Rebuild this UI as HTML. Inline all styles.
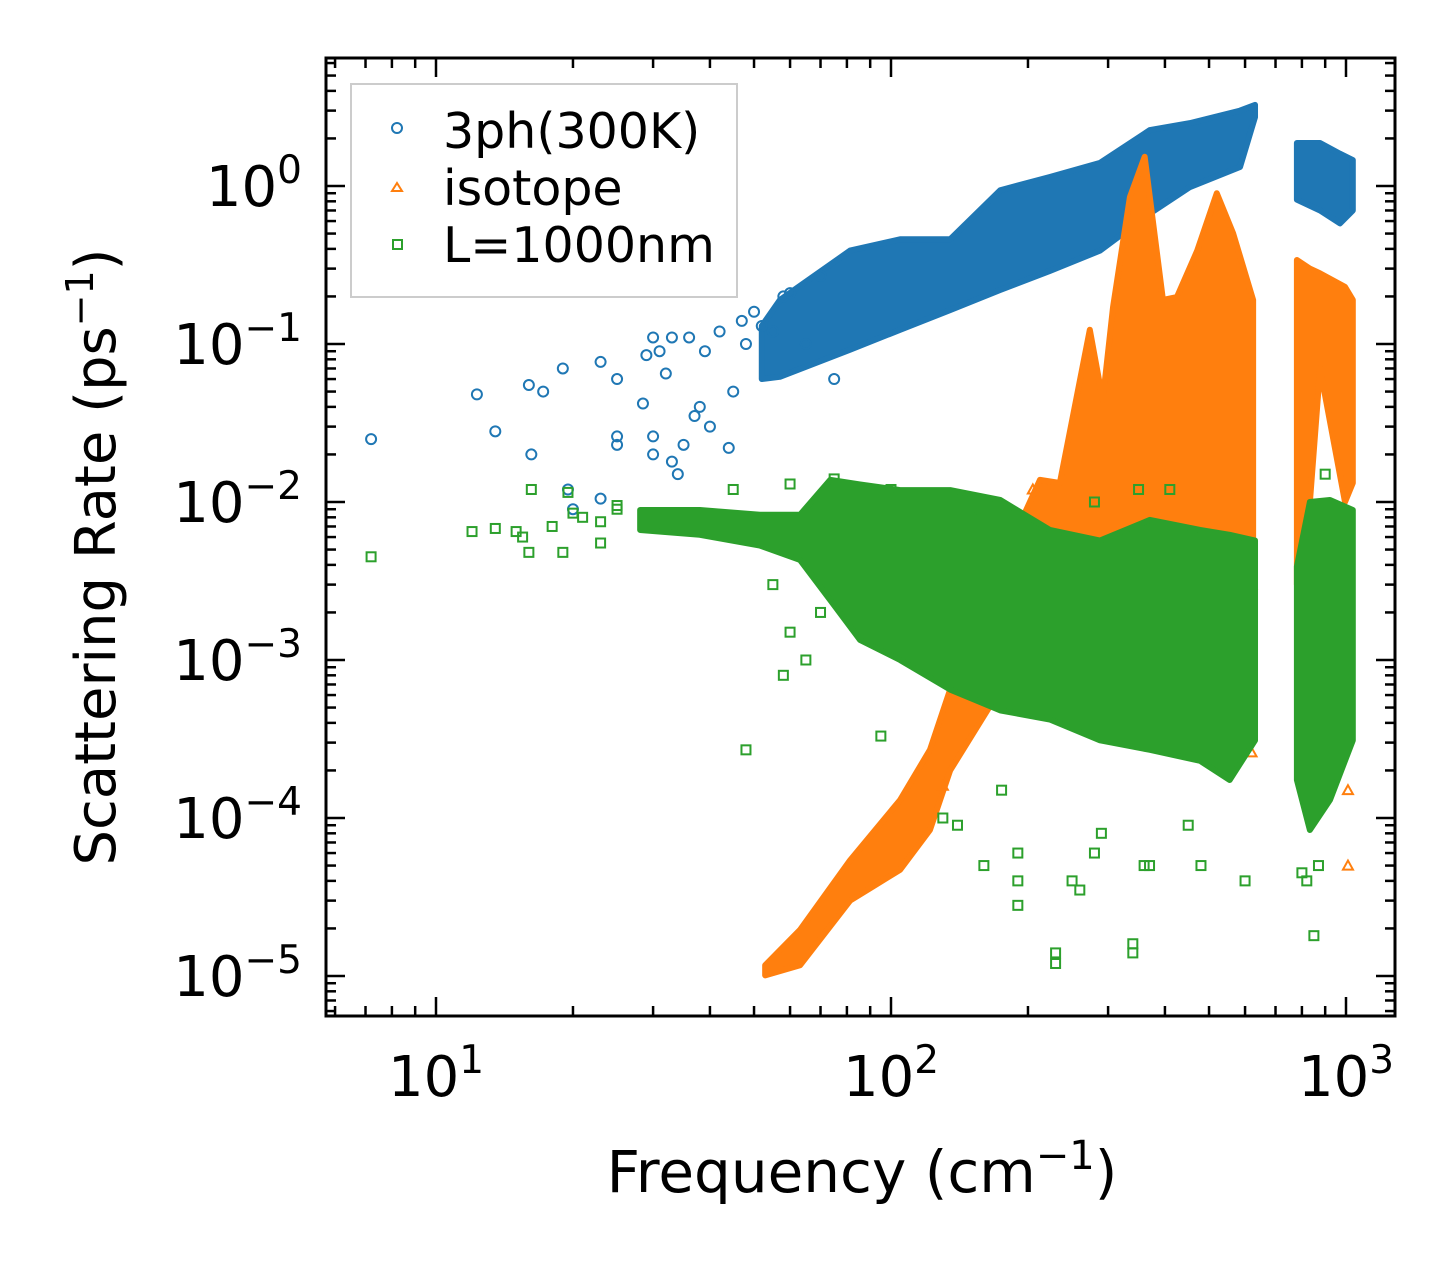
<!DOCTYPE html>
<html><head><meta charset="utf-8"><style>
html,body{margin:0;padding:0;background:#fff;}
svg{display:block;font-family:"DejaVu Sans","Liberation Sans",sans-serif;}
</style></head><body>
<svg id="chart" width="1455" height="1265" viewBox="0 0 1455 1265">
<rect x="0" y="0" width="1455" height="1265" fill="#fff"/>
<defs><clipPath id="pc"><rect x="327" y="59" width="1067" height="956"/></clipPath></defs>
<g id="marks" clip-path="url(#pc)"></g>
<g id="axes"></g>
<g id="legend">
<rect x="351" y="84" width="386" height="213" fill="#fff" fill-opacity="0.8" stroke="#ccc" stroke-width="2"/>
<circle cx="397" cy="128" r="5" fill="none" stroke="#1f77b4" stroke-width="2"/>
<text x="443" y="148" font-size="49" fill="#000">3ph(300K)</text>
<polygon points="397,183 402,191 392,191" fill="none" stroke="#ff7f0e" stroke-width="2"/>
<text x="443" y="205" font-size="49" fill="#000">isotope</text>
<rect x="393" y="240" width="9" height="9" fill="none" stroke="#2ca02c" stroke-width="2"/>
<text x="443" y="262" font-size="49" fill="#000">L=1000nm</text>
</g>
<text x="862" y="1192" font-size="58" text-anchor="middle" fill="#000">Frequency (cm<tspan dy="-23" font-size="40">−1</tspan><tspan dy="23">)</tspan></text>
<text transform="translate(115,557) rotate(-90)" font-size="56" text-anchor="middle" fill="#000">Scattering Rate (ps<tspan dy="-22" font-size="38">−1</tspan><tspan dy="22">)</tspan></text>
</svg>
<script>
// ---- data ----
const blueBandA_x=[52,57,81.3,104.7,134.9,173.8,223.4,288,370.7,454,585,631];
const blueBandA_lo=[0.06,0.062,0.092,0.123,0.164,0.22,0.29,0.39,0.67,0.985,1.32,2.73];
const blueBandA_hi=[0.13,0.19,0.39,0.46,0.46,0.94,1.14,1.4,2.26,2.5,3.0,3.26];
const blueBandB_x=[780,877,970,1035];
const blueBandB_lo=[0.82,0.7,0.58,0.7];
const blueBandB_hi=[1.87,1.87,1.6,1.46];
const blueX=[7.2,12.3,13.5,16,16.2,17.2,19,19.5,20,23,23,25,25,25,28.5,29,30,30,30,31,32,33,33,34,35,36,37,38,39,40,42,44,45,47,48,50,52,55,58,60,65,70,75];
const blueY=[0.025,0.048,0.028,0.055,0.02,0.05,0.07,0.012,0.009,0.077,0.0105,0.06,0.026,0.023,0.042,0.085,0.11,0.026,0.02,0.09,0.065,0.018,0.11,0.015,0.023,0.11,0.035,0.04,0.09,0.03,0.12,0.022,0.05,0.14,0.1,0.16,0.13,0.12,0.2,0.21,0.1,0.27,0.06];
const orBandA_x=[52.9,63.1,81.3,104.7,121.8,134.9,173.8,189.3,212.5,235,247,273.5,292,307.6,335,361,396,425,471,520,565,625];
const orBandA_hi=[1.17e-5,1.96e-5,5.4e-5,1.3e-4,2.7e-4,6.5e-4,2.4e-3,6.65e-3,0.0138,0.0132,0.0274,0.123,0.044,0.171,0.85,1.53,0.19,0.198,0.39,0.9,0.5,0.19];
const orBandA_lo=[1.01e-5,1.17e-5,3e-5,4.7e-5,8.4e-5,2e-4,6.5e-4,5.5e-4,5e-4,5e-4,5e-4,5e-4,4e-3,5e-4,5e-4,5e-4,3.9e-3,5e-4,5e-4,5e-4,5e-4,5e-4];
const orBandB_x=[780,833,877,995,1035];
const orBandB_hi=[0.34,0.3,0.28,0.23,0.19];
const orBandB_lo=[0.003,0.01,0.07,0.01,0.0132];
const orX=[1010,1010,1000,800,620,130,620,205,210,800,820];
const orY=[1.5e-4,5e-5,1e-3,2e-3,3e-3,1.6e-4,2.6e-4,1.2e-2,1.1e-2,6e-4,3e-4];
const grBandA_x=[28.1,38,51.5,63.1,73.5,85.5,104.7,134.9,173.8,223.4,288,370.7,478,555,631];
const grBandA_hi=[0.0089,0.0089,0.0083,0.0083,0.0138,0.0129,0.0119,0.0119,0.0103,0.00665,0.0057,0.0077,0.00665,0.0062,0.0057];
const grBandA_lo=[0.00665,0.0062,0.0053,0.0043,0.0024,0.00134,0.001,0.00065,0.00048,0.00042,0.00031,0.00027,0.00023,0.000174,0.00031];
const grBandB_x=[780,833,922,1035];
const grBandB_hi=[0.0039,0.01,0.0103,0.0089];
const grBandB_lo=[0.000174,0.000084,0.00013,0.00031];
const grX=[7.2,12,13.5,15,15.5,16,16.2,18,19,19.5,20,21,23,23,25,25,48,55,58,60,65,70,95,130,140,160,175,190,190,190,230,230,250,260,280,290,340,340,360,370,450,480,600,800,850,870,820,45,60,75,100,150,200,280,350,410,900];
const grY=[0.0045,0.0065,0.0068,0.0065,0.006,0.0048,0.012,0.007,0.0048,0.0115,0.0085,0.008,0.0075,0.0055,0.009,0.0095,0.00027,0.003,0.0008,0.0015,0.001,0.002,0.00033,0.0001,0.00009,0.00005,0.00015,0.00006,0.00004,0.000028,0.000014,0.000012,0.00004,0.000035,0.00006,0.00008,0.000016,0.000014,0.00005,0.00005,0.00009,0.00005,0.00004,0.000045,0.000018,0.00005,0.00004,0.012,0.013,0.014,0.012,0.009,0.006,0.01,0.012,0.012,0.015];
const xTicks=[10,100,1000];
const xTickLabels=["1","2","3"];
const yTicks=[1e-5,1e-4,1e-3,1e-2,1e-1,1];
const yTickLabels=["−5","−4","−3","−2","−1","0"];
// ---- scales ----
const X0=327,X1=1394,Y0=59,Y1=1015;
const xs=v=>436+(Math.log10(v)-1)*455;
const ys=v=>186-Math.log10(v)*158;
const NS="http://www.w3.org/2000/svg";
const marks=document.getElementById('marks'),axes=document.getElementById('axes');
function mk(t,a,p){const e=document.createElementNS(NS,t);for(const k in a)e.setAttribute(k,a[k]);p.appendChild(e);return e;}
function band(xa,lo,hi,col,name){
  let d='M'+xa.map((x,i)=>xs(x)+','+ys(hi[i])).join('L');
  for(let i=xa.length-1;i>=0;i--)d+='L'+xs(xa[i])+','+ys(lo[i]);
  const p=mk('path',{d:d+'Z',fill:col,stroke:col,'stroke-width':6,'stroke-linejoin':'round'},marks);
  
  
}
function circ(xa,ya){xa.forEach((x,i)=>{const e=mk('circle',{cx:xs(x),cy:ys(ya[i]),r:5,fill:'none',stroke:'#1f77b4','stroke-width':2},marks);
  
  });}
function tri(xa,ya){xa.forEach((x,i)=>{const cx=xs(x),cy=ys(ya[i]);const e=mk('polygon',{points:`${cx},${cy-5} ${cx+5},${cy+4} ${cx-5},${cy+4}`,fill:'none',stroke:'#ff7f0e','stroke-width':2},marks);
  
  });}
function sq(xa,ya){xa.forEach((x,i)=>{const e=mk('rect',{x:xs(x)-4.5,y:ys(ya[i])-4.5,width:9,height:9,fill:'none',stroke:'#2ca02c','stroke-width':2},marks);
  
  });}
band(blueBandA_x,blueBandA_lo,blueBandA_hi,'#1f77b4','band-3ph-main');
band(blueBandB_x,blueBandB_lo,blueBandB_hi,'#1f77b4','band-3ph-high');
circ(blueX,blueY);
band(orBandA_x,orBandA_lo,orBandA_hi,'#ff7f0e','band-isotope-main');
band(orBandB_x,orBandB_lo,orBandB_hi,'#ff7f0e','band-isotope-high');
tri(orX,orY);
band(grBandA_x,grBandA_lo,grBandA_hi,'#2ca02c','band-boundary-main');
band(grBandB_x,grBandB_lo,grBandB_hi,'#2ca02c','band-boundary-high');
sq(grX,grY);
// frame
const fr=mk('rect',{x:X0-1,y:Y0-1,width:X1-X0+2,height:Y1-Y0+2,fill:'none',stroke:'#000','stroke-width':3},axes);


for(let d=0;d<=3;d++)for(let m=1;m<10;m++){const v=m*Math.pow(10,d);const x=xs(v);if(x<X0||x>X1)continue;const L=m===1?18:9;
  mk('line',{x1:x,y1:Y1,x2:x,y2:Y1-L,stroke:'#000','stroke-width':2.5},axes);
  mk('line',{x1:x,y1:Y0,x2:x,y2:Y0+L,stroke:'#000','stroke-width':2.5},axes);}
for(let d=-6;d<=1;d++)for(let m=1;m<10;m++){const v=m*Math.pow(10,d);const y=ys(v);if(y<Y0||y>Y1)continue;const L=m===1?18:9;
  mk('line',{x1:X0,y1:y,x2:X0+L,y2:y,stroke:'#000','stroke-width':2.5},axes);
  mk('line',{x1:X1,y1:y,x2:X1-L,y2:y,stroke:'#000','stroke-width':2.5},axes);}
xTicks.forEach((v,i)=>{const t=mk('text',{x:xs(v),y:1096,'font-size':56,'text-anchor':'middle',fill:'#000'},axes);
  
  
  t.innerHTML='10<tspan dy="-23" font-size="39">'+xTickLabels[i]+'</tspan>';});
yTicks.forEach((v,i)=>{const t=mk('text',{x:302,y:ys(v)+20,'font-size':56,'text-anchor':'end',fill:'#000'},axes);
  
  
  t.innerHTML='10<tspan dy="-23" font-size="39">'+yTickLabels[i]+'</tspan>';});
</script>
</body></html>
